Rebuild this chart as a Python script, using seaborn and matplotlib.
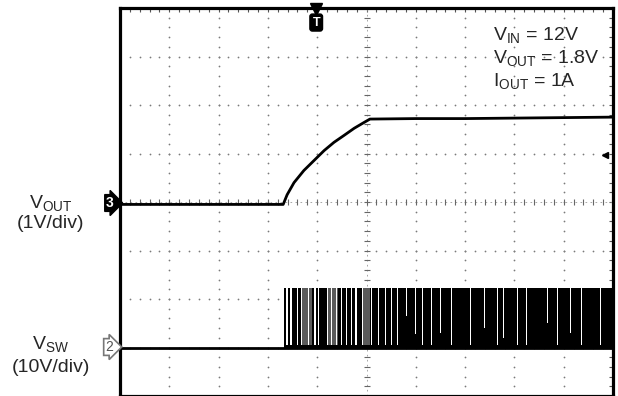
import numpy as np
import matplotlib
matplotlib.use("Agg")
import matplotlib.pyplot as plt
import seaborn as sns

# screen is 10 x 8 divisions; values below are in divisions
vout_t = [0.0, 3.31, 3.39, 3.53, 3.73, 3.94, 4.14, 4.34, 4.54, 4.75, 4.95, 5.07, 6.0, 7.0, 8.0, 9.0, 10.0]
vout_y = [3.95, 3.95, 4.15, 4.40, 4.65, 4.86, 5.06, 5.23, 5.37, 5.52, 5.64, 5.71, 5.72, 5.72, 5.73, 5.74, 5.75]

vsw_t = [0.0, 10.0]
vsw_low = [1.0, 1.0]
vsw_start = 3.33
vsw_high = 2.22

# white gaps in the switching burst: position, width, lowest point
gap_t = [3.37, 3.45, 3.59, 3.67, 3.81, 3.94, 4.02, 4.20, 4.28, 4.38, 4.48, 4.58, 4.69, 4.77,
         4.91, 5.09, 5.23, 5.38, 5.50, 5.62, 5.80, 5.98, 6.13, 6.31, 6.49, 6.71, 7.10, 7.38,
         7.65, 7.77, 8.05, 8.24, 8.66, 8.86, 9.13, 9.35, 9.74]
gap_w = [0.03, 0.04, 0.03, 0.02, 0.03, 0.03, 0.02, 0.02, 0.02, 0.03, 0.02, 0.02, 0.02, 0.03,
         0.02, 0.02, 0.02, 0.02, 0.02, 0.02, 0.02, 0.02, 0.02, 0.02, 0.02, 0.02, 0.02, 0.02,
         0.02, 0.02, 0.02, 0.02, 0.02, 0.02, 0.02, 0.02, 0.02]
gap_low = [1.05, 1.05, 1.05, 1.05, 1.05, 1.05, 1.05, 1.05, 1.05, 1.05, 1.05, 1.05, 1.05, 1.05,
           1.05, 1.05, 1.05, 1.05, 1.05, 1.05, 1.65, 1.28, 1.05, 1.05, 1.3, 1.05, 1.05, 1.4,
           1.05, 1.2, 1.05, 1.05, 1.5, 1.05, 1.3, 1.05, 1.05]
gray_t = [3.70, 4.22, 4.90]
gray_w = [0.20, 0.20, 0.18]

sns.set_style("white")
plt.rcParams['font.family'] = ['Liberation Sans', 'DejaVu Sans']
plt.rcParams['mathtext.fontset'] = 'custom'
plt.rcParams['mathtext.rm'] = 'Liberation Sans'

W, H = 618, 396
fig = plt.figure(figsize=(W / 100, H / 100), dpi=100)
ax = fig.add_axes([120 / W, 0.0, 493 / W, 388 / H])
ax.set_xlim(0, 10)
ax.set_ylim(0, 8)


def px(x, y):
    return x / W, 1 - y / H


# graticule
dots = np.arange(0, 10.01, 0.2)
for gx in range(1, 10):
    if gx == 5:
        continue
    ax.scatter(np.full(41, gx), np.arange(0, 8.01, 0.2), s=1.6, color='#7a7a7a', lw=0, zorder=1)
for gy in range(1, 8):
    if gy == 4:
        continue
    ax.scatter(dots, np.full(len(dots), gy), s=1.6, color='#7a7a7a', lw=0, zorder=1)
ax.plot([0, 10], [4, 4], color='#999999', lw=0.6, ls=(0, (2, 4)), zorder=1)
ax.plot([5, 5], [0, 8], color='#999999', lw=0.6, ls=(0, (2, 4)), zorder=1)
ax.scatter(dots, np.full(len(dots), 4), marker='|', s=18, color='#666666', lw=0.8, zorder=1)
ax.scatter(np.full(41, 5), np.arange(0, 8.01, 0.2), marker='_', s=18, color='#666666', lw=0.8, zorder=1)

ax.set_xticks(dots)
ax.set_yticks(np.arange(0, 8.01, 0.2))
ax.tick_params(direction='in', length=3, width=0.8, color='#555555',
               top=True, right=True, labelbottom=False, labelleft=False)
for s in ax.spines.values():
    s.set_linewidth(2.3)
    s.set_color('black')

# switching node burst
ax.fill_between([vsw_start, 10], [1.0, 1.0], [vsw_high, vsw_high], color='black', lw=0, zorder=2)
for t, w in zip(gray_t, gray_w):
    ax.fill_between([t, t + w], [1.05, 1.05], [vsw_high, vsw_high], color='#5a5a5a', lw=0, zorder=2)
for t, w, lo in zip(gap_t, gap_w, gap_low):
    ax.fill_between([t, t + w], [lo, lo], [vsw_high + 0.02, vsw_high + 0.02], color='white', lw=0, zorder=3)

sns.lineplot(x=vsw_t, y=vsw_low, ax=ax, color='black', lw=2.0, zorder=4)
sns.lineplot(x=vout_t, y=vout_y, ax=ax, color='black', lw=2.0, zorder=4)

# markers
ax.plot([3.98], [7.98], marker='v', ms=8, color='black', clip_on=False, zorder=5)
ax.text(3.98, 7.7, 'T', ha='center', va='center', color='white', fontsize=9, fontweight='bold',
        bbox=dict(boxstyle='round,pad=0.2', fc='black', ec='black'), zorder=5)
ax.plot([9.84], [4.96], marker='<', ms=5, color='black', zorder=5)

fig.text(*px(110, 203), '3', ha='center', va='center', color='white', fontsize=10, fontweight='bold',
         bbox=dict(boxstyle='rarrow,pad=0.1', fc='black', ec='black'))
fig.text(*px(109, 347), '2', ha='center', va='center', color='#555555', fontsize=10,
         bbox=dict(boxstyle='rarrow,pad=0.1', fc='white', ec='#777777', lw=1.2))

fs = 14
fig.text(*px(51, 203), r'$\mathregular{V_{OUT}}$', ha='center', va='center', fontsize=fs)
fig.text(*px(50, 223), '(1V/div)', ha='center', va='center', fontsize=fs)
fig.text(*px(51, 344), r'$\mathregular{V_{SW}}$', ha='center', va='center', fontsize=fs)
fig.text(*px(51, 367), '(10V/div)', ha='center', va='center', fontsize=fs)

fig.text(*px(493, 35), r'$\mathregular{V_{IN}}$ = 12V', ha='left', va='center', fontsize=fs)
fig.text(*px(493, 58), r'$\mathregular{V_{OUT}}$ = 1.8V', ha='left', va='center', fontsize=fs)
fig.text(*px(493, 81), r'$\mathregular{I_{OUT}}$ = 1A', ha='left', va='center', fontsize=fs)

fig.savefig('out.png', dpi=100)
